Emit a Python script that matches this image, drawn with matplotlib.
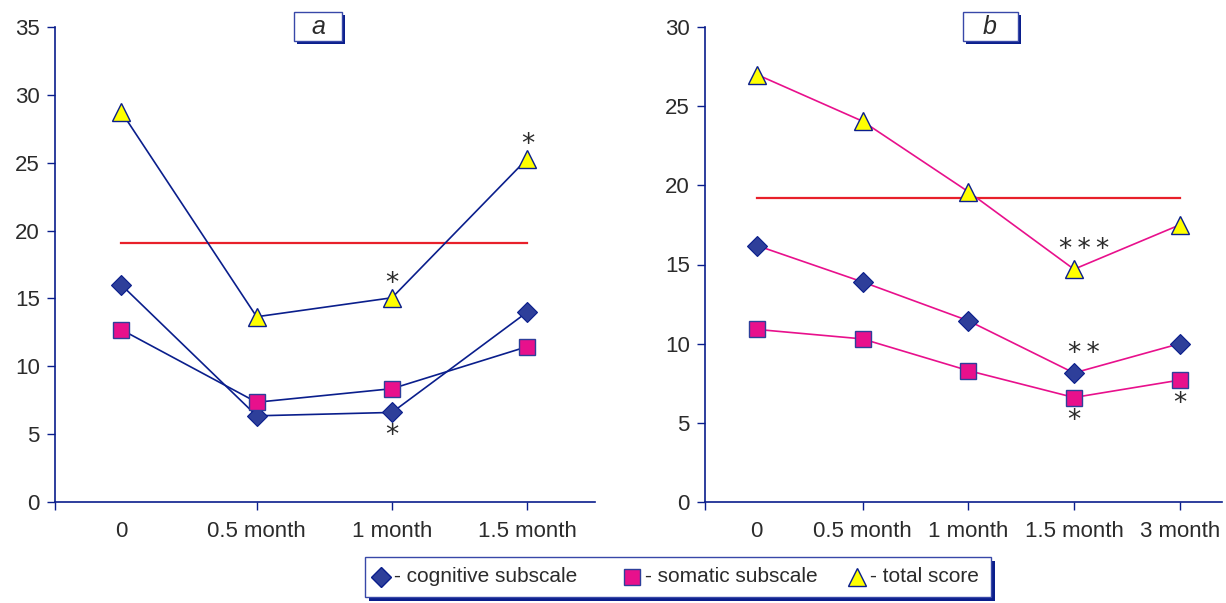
import matplotlib
matplotlib.use("Agg")
import matplotlib.pyplot as plt
from matplotlib.patches import Rectangle
from matplotlib.lines import Line2D

plt.rcParams['font.family'] = ['Liberation Sans', 'DejaVu Sans']

# ---------------- data ----------------
labels_a = ["0", "0.5 month", "1 month", "1.5 month"]
cognitive_a = [16.0, 6.35, 6.6, 14.0]
somatic_a = [12.7, 7.35, 8.35, 11.45]
total_a = [28.75, 13.65, 15.05, 25.3]
threshold_a = 19.1

labels_b = ["0", "0.5 month", "1 month", "1.5 month", "3 month"]
cognitive_b = [16.2, 13.9, 11.45, 8.15, 10.0]
somatic_b = [10.9, 10.3, 8.3, 6.6, 7.7]
total_b = [27.0, 24.05, 19.6, 14.7, 17.5]
threshold_b = 19.2

# annotations: (series, index, text, above?)
stars_a = [("total", 2, "*", True), ("total", 3, "*", True), ("cognitive", 2, "*", False)]
stars_b = [("total", 3, "*\u2009*\u2009*", True), ("cognitive", 3, "*\u2009*", True),
           ("somatic", 3, "*", False), ("somatic", 4, "*", False)]

NAVY = "#0A1E8C"
DIAMOND = "#2E3F9A"
PINK = "#E8108C"
RED = "#E8202A"
YELLOW = "#FFFF00"
TXT = "#2B2B2B"

W, H = 1226, 603
fig = plt.figure(figsize=(W / 100, H / 100), dpi=100)


def px_axes(l, r, t, b):
    return fig.add_axes([l / W, 1 - b / H, (r - l) / W, (b - t) / H])


def panel(ax, labels, cog, som, tot, thr, ymax, xmin, xmax, line_color, stars):
    x = list(range(len(labels)))
    ax.set_xlim(xmin, xmax)
    ax.set_ylim(0, ymax)
    ax.plot([x[0], x[-1]], [thr, thr], color=RED, lw=1.6, zorder=2)
    kw = dict(color=line_color, lw=1.2, zorder=3)
    ax.plot(x, cog, marker='D', ms=10.5, mfc=DIAMOND, mec=NAVY, mew=0.8, **kw)
    ax.plot(x, som, marker='s', ms=11.5, mfc=PINK, mec="#2E3F9A", mew=1.0, **kw)
    ax.plot(x, tot, marker='^', ms=13.5, mfc=YELLOW, mec=NAVY, mew=1.0, **kw)
    series = {"cognitive": cog, "somatic": som, "total": tot}
    for name, i, s, above in stars:
        yv = series[name][i]
        dx, off = 0, (10 if above else -17)
        if s.count("*") >= 2 and above:
            dx, off = 7, 14
        ax.annotate(s, (x[i], yv), xytext=(dx, off), textcoords="offset points",
                    ha="center", va="center", fontsize=19, color=TXT, zorder=5,
                    family="DejaVu Sans")
    for sp in ["top", "right"]:
        ax.spines[sp].set_visible(False)
    for sp in ["left", "bottom"]:
        ax.spines[sp].set_color(NAVY)
        ax.spines[sp].set_linewidth(1.2)
    ax.set_yticks(range(0, ymax + 1, 5))
    ax.tick_params(axis='y', colors=NAVY, labelcolor=TXT, labelsize=16,
                   length=6, width=1.0, direction='out', pad=5)
    ax.xaxis.remove_overlapping_locs = False
    ax.set_xticks([xmin] + x[1:])
    ax.set_xticklabels([])
    ax.set_xticks(x, minor=True)
    ax.set_xticklabels(labels, minor=True)
    ax.tick_params(axis='x', which='major', colors=NAVY, length=6, width=1.0)
    ax.tick_params(axis='x', which='minor', length=0, labelsize=16,
                   labelcolor=TXT, pad=14)
    ax.set_facecolor("none")


axa = px_axes(55, 595, 27, 502)
panel(axa, labels_a, cognitive_a, somatic_a, total_a, threshold_a, 35, -0.49, 3.5,
      NAVY, stars_a)
axb = px_axes(705, 1222, 27, 502)
panel(axb, labels_b, cognitive_b, somatic_b, total_b, threshold_b, 30, -0.49, 4.4,
      PINK, stars_b)


def shadow_box(l, t, r, b, sh=4):
    fig.patches.append(Rectangle(((l + sh) / W, 1 - (b + sh) / H), (r - l) / W, (b - t) / H,
                                 transform=fig.transFigure, facecolor=NAVY,
                                 edgecolor="none", zorder=1))
    fig.patches.append(Rectangle((l / W, 1 - b / H), (r - l) / W, (b - t) / H,
                                 transform=fig.transFigure, facecolor="white",
                                 edgecolor="#3848A8", lw=1.0, zorder=2))


# title boxes
shadow_box(294, 12, 342, 41, sh=3)
fig.text(318 / W, 1 - 27 / H, "a", style="italic", fontsize=18, color=TXT,
         ha="center", va="center", zorder=3)
shadow_box(963, 12, 1018, 41, sh=3)
fig.text(990 / W, 1 - 27 / H, "b", style="italic", fontsize=18, color=TXT,
         ha="center", va="center", zorder=3)

# legend
shadow_box(365, 557, 991, 597, sh=4)
legend_items = [
    ("D", DIAMOND, NAVY, 10.5, "- cognitive subscale", 381),
    ("s", PINK, "#2E3F9A", 11.5, "- somatic subscale", 632),
    ("^", YELLOW, NAVY, 13.5, "- total score", 857),
]
for mk, fc, ec, ms, txt, xp in legend_items:
    fig.lines.append(Line2D([xp / W], [1 - 577 / H], marker=mk, ms=ms, mfc=fc, mec=ec,
                            mew=1.0, ls="none", transform=fig.transFigure, zorder=3))
    fig.text((xp + 13) / W, 1 - 577 / H, txt, fontsize=15, color=TXT,
             ha="left", va="center", zorder=3)

fig.savefig("out.png", dpi=100)
